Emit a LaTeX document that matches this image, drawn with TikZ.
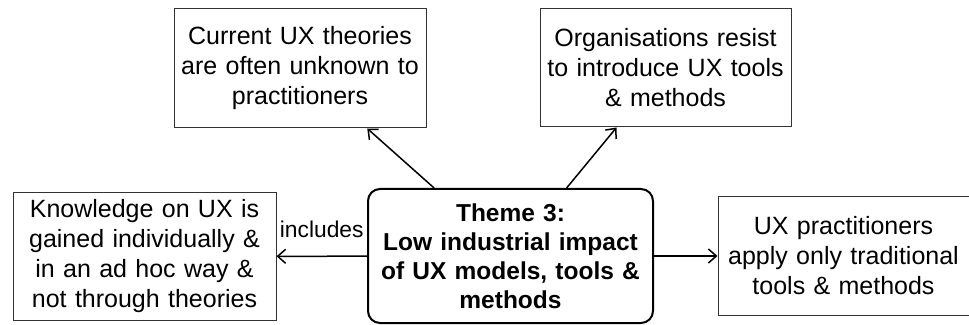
\documentclass[tikz,border=0pt]{standalone}
\usepackage{fontspec}
\setmainfont{Liberation Sans}
\usetikzlibrary{arrows.meta}

\begin{document}
\begin{tikzpicture}[x=1pt, y=1pt, >={Straight Barb[length=8pt, width=14pt]},
	box/.style={draw=black!80, line width=1pt, align=center, inner sep=0pt, font=\fontsize{25}{30}\selectfont},
	theme/.style={draw, line width=2pt, rounded corners=12pt, align=center, inner sep=0pt, font=\fontsize{24.5}{29}\selectfont\bfseries},
	link/.style={->, line width=1.5pt}]
\useasboundingbox (0, 0) rectangle (969, 324);

\node[box, minimum width=263, minimum height=127, text width=261] (know) at (144.5, 67.5) {Knowledge on UX is\\gained individually \&\\in an ad hoc way \&\\not through theories};
\node[box, minimum width=252, minimum height=119, text width=250] (curr) at (300, 255.5) {Current UX theories\\are often unknown to\\practitioners};
\node[box, minimum width=251, minimum height=118, text width=249] (org) at (665.5, 256) {Organisations resist\\to introduce UX tools\\\& methods};
\node[box, minimum width=251, minimum height=118, text width=249] (pract) at (843.5, 68) {UX practitioners\\apply only traditional\\tools \& methods};
\node[theme, minimum width=285, minimum height=134, text width=283] (theme) at (510.5, 68) {Theme 3:\\Low industrial impact\\of UX models, tools \&\\methods};

\draw[link] (theme) -- (curr);
\draw[link] (theme) -- (org);
\draw[link] (theme) -- node[above=18pt, inner sep=0pt, font=\fontsize{22.8}{26}\selectfont] (inc) {includes} (know);
\draw[link] (theme) -- (pract);

\end{tikzpicture}
\end{document}
